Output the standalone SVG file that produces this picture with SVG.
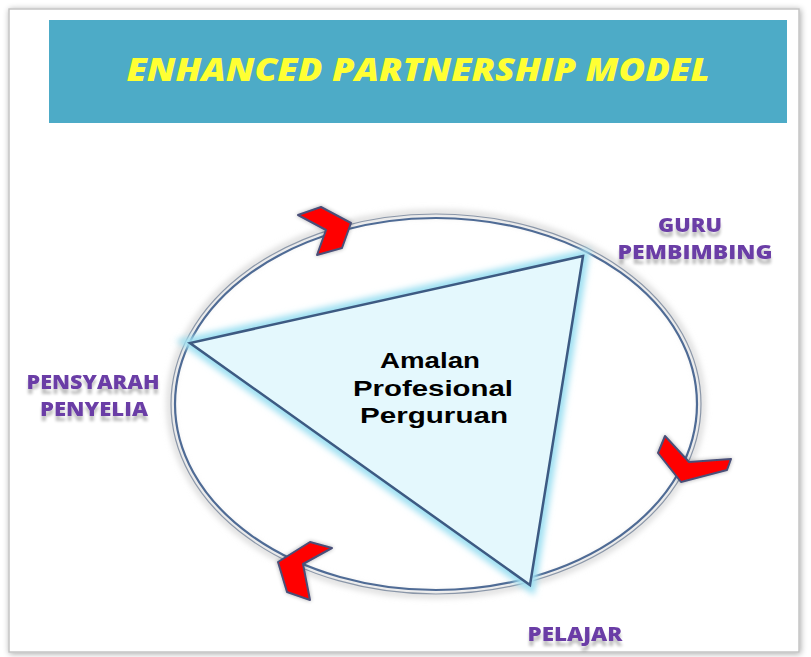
<svg xmlns="http://www.w3.org/2000/svg" width="811" height="657" viewBox="0 0 811 657">
  <defs>
    <filter id="frameShadow" x="-5%" y="-5%" width="110%" height="110%">
      <feGaussianBlur in="SourceAlpha" stdDeviation="3"/>
      <feOffset dx="1" dy="1"/>
      <feComponentTransfer><feFuncA type="linear" slope="0.35"/></feComponentTransfer>
      <feMerge><feMergeNode/><feMergeNode in="SourceGraphic"/></feMerge>
    </filter>
    <filter id="glow" x="-20%" y="-20%" width="140%" height="140%">
      <feGaussianBlur stdDeviation="3"/>
    </filter>
    <filter id="labelShadow" x="-10%" y="-30%" width="120%" height="180%">
      <feGaussianBlur in="SourceAlpha" stdDeviation="1.5"/>
      <feOffset dx="0" dy="5"/>
      <feComponentTransfer><feFuncA type="linear" slope="0.25"/></feComponentTransfer>
      <feMerge><feMergeNode/><feMergeNode in="SourceGraphic"/></feMerge>
    </filter>
    <filter id="softShadow" x="-10%" y="-10%" width="120%" height="120%">
      <feGaussianBlur in="SourceAlpha" stdDeviation="2"/>
      <feComponentTransfer><feFuncA type="linear" slope="0.3"/></feComponentTransfer>
      <feMerge><feMergeNode/><feMergeNode in="SourceGraphic"/></feMerge>
    </filter>
  </defs>
  <style>
    .label { font-family: "Open Sans", "Liberation Sans", sans-serif; font-weight: 800; font-size: 19px; fill: #6b3ea6; text-anchor: middle; }
    .center { font-family: "Liberation Sans", Arial, sans-serif; font-weight: bold; font-size: 22px; fill: #000; text-anchor: middle; }
    .chev { fill: #ff0000; stroke: #4a4f78; stroke-width: 2; stroke-linejoin: round; }
  </style>

  <rect x="0" y="0" width="811" height="657" fill="#ffffff"/>
  <rect x="9" y="9" width="790" height="643" fill="#ffffff" stroke="#c4c4c4" stroke-width="1.5" filter="url(#frameShadow)"/>

  <g id="title">
    <rect x="49" y="20" width="738" height="103" fill="#4dabc7"/>
    <text x="418" y="81" font-family="Open Sans, Liberation Sans, sans-serif" font-weight="800" font-style="italic" font-size="32" fill="#ffff33" text-anchor="middle" textLength="583" lengthAdjust="spacingAndGlyphs">ENHANCED PARTNERSHIP MODEL</text>
  </g>

  <g id="cycle">
    <ellipse cx="436" cy="404" rx="266" ry="191" fill="none" stroke="#d8d8d8" stroke-width="6" filter="url(#glow)"/>
    <ellipse cx="436" cy="404" rx="265" ry="190" fill="none" stroke="#8a96a8" stroke-width="1.2"/>
    <ellipse cx="436" cy="404" rx="261" ry="186" fill="none" stroke="#4f6b95" stroke-width="2.2"/>
  </g>

  <g id="triangle">
    <polygon points="583,256 190,343 530,585" fill="none" stroke="#9fe0f2" stroke-width="12" filter="url(#glow)"/>
    <polygon points="583,256 190,343 530,585" fill="#e4f8fd" stroke="#3d5a82" stroke-width="2.5" stroke-linejoin="miter"/>
    <text class="center" x="430" y="368" textLength="100" lengthAdjust="spacingAndGlyphs">Amalan</text>
    <text class="center" x="433" y="396" textLength="160" lengthAdjust="spacingAndGlyphs">Profesional</text>
    <text class="center" x="434" y="423" textLength="148" lengthAdjust="spacingAndGlyphs">Perguruan</text>
  </g>

  <g id="connectors">
    <polygon class="chev" points="298,215 321,207 351,223 342,248 317,255 326,230" filter="url(#softShadow)"/>
    <polygon class="chev" points="665,436 658,453 681,482 727,470 731,459 689,462" filter="url(#softShadow)"/>
    <polygon class="chev" points="310,542 278,562 287,592 310,600 303,564 332,548" filter="url(#softShadow)"/>
  </g>

  <g id="guru" filter="url(#labelShadow)">
    <text class="label" x="690" y="232" textLength="64" lengthAdjust="spacingAndGlyphs">GURU</text>
    <text class="label" x="695" y="259" textLength="155" lengthAdjust="spacingAndGlyphs">PEMBIMBING</text>
  </g>

  <g id="pensyarah" filter="url(#labelShadow)">
    <text class="label" x="93" y="389" textLength="133" lengthAdjust="spacingAndGlyphs">PENSYARAH</text>
    <text class="label" x="94" y="416" textLength="108" lengthAdjust="spacingAndGlyphs">PENYELIA</text>
  </g>

  <g id="pelajar" filter="url(#labelShadow)">
    <text class="label" x="575" y="641" textLength="95" lengthAdjust="spacingAndGlyphs">PELAJAR</text>
  </g>
</svg>
